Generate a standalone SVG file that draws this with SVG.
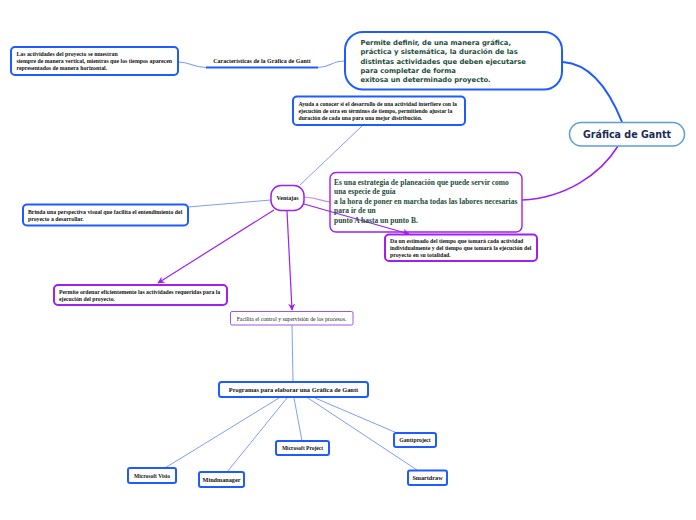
<svg xmlns="http://www.w3.org/2000/svg" width="696" height="520" viewBox="0 0 696 520">
<style>
.bg{fill:#fff}
.bn{fill:#fff;stroke:#1f5cff;stroke-width:2}
.pn{fill:#fff;stroke:#a020f0;stroke-width:2}
.ln{fill:none;stroke:#7f9dff;stroke-width:1}
.pl{fill:none;stroke:#a020f0;stroke-width:1.2}
.s{font-family:"Liberation Serif","Times New Roman",serif;font-weight:bold;fill:#111}
.g{font-family:"DejaVu Sans",Verdana,sans-serif;font-weight:bold;fill:#1d4d3a;font-size:6.8px}
.gs{font-family:"Liberation Serif","Times New Roman",serif;font-weight:bold;fill:#1d4d3a;font-size:7.5px}
</style>
<defs>
<marker id="pa" viewBox="0 0 10 10" refX="9" refY="5" markerWidth="7" markerHeight="7" orient="auto" markerUnits="userSpaceOnUse">
<path d="M0,0 L10,5 L0,10 L3,5 Z" fill="#a020f0"/>
</marker>
</defs>
<rect class="bg" x="0" y="0" width="696" height="520"/>

<g id="connectors">
<path d="M563,62 C592,64 610,92 622,122" fill="none" stroke="#1f5cff" stroke-width="2"/>
<path d="M618,146 C600,175 565,198 522,200" fill="none" stroke="#a020f0" stroke-width="1.6"/>
<path d="M345,61 C330,61 332,67.5 318,67.5" fill="none" stroke="#7f9dff" stroke-width="1.2"/>
<line x1="206" y1="67.5" x2="318" y2="67.5" stroke="#1f5cff" stroke-width="2"/>
<path d="M206,67.5 C192,67.5 192,62 178,62" fill="none" stroke="#7f9dff" stroke-width="1.2"/>
<path d="M330,202 C320,200 315,198 304,197" fill="none" stroke="#c38cf5" stroke-width="1.2"/>
<line class="ln" x1="300" y1="185" x2="362" y2="126"/>
<line class="ln" x1="271" y1="200" x2="188" y2="207"/>
<line class="pl" x1="304" y1="204" x2="409" y2="234" marker-end="url(#pa)"/>
<line class="pl" x1="274" y1="210" x2="158" y2="283" marker-end="url(#pa)"/>
<line class="pl" x1="287" y1="211" x2="292" y2="310" marker-end="url(#pa)"/>
<line class="ln" x1="292" y1="325" x2="293" y2="382"/>
<line class="ln" x1="279" y1="398" x2="165" y2="468"/>
<line class="ln" x1="287" y1="398" x2="227" y2="472"/>
<line class="ln" x1="294" y1="398" x2="302" y2="441"/>
<line class="ln" x1="315" y1="398" x2="397" y2="433"/>
<line class="ln" x1="308" y1="398" x2="417" y2="470"/>
</g>

<g id="root">
<rect x="569.5" y="122.5" width="115" height="23.5" rx="11.7" fill="#fff" stroke="#5aa0d8" stroke-width="1.5"/>
<text x="627" y="138" text-anchor="middle" font-family="'DejaVu Sans',Verdana,sans-serif" font-weight="bold" font-size="10.5" fill="#1a2b57" textLength="88" lengthAdjust="spacingAndGlyphs">Gráfica de Gantt</text>
</g>

<g id="definicion">
<rect class="bn" x="345" y="32" width="217" height="57.5" rx="18" stroke-width="1.6"/>
<text class="g" x="360.5"><tspan x="360.5" y="45">Permite definir, de una manera gráfica,</tspan><tspan x="360.5" y="54.3">práctica y sistemática, la duración de las</tspan><tspan x="360.5" y="63.6">distintas actividades que deben ejecutarse</tspan><tspan x="360.5" y="72.9">para completar de forma</tspan><tspan x="360.5" y="82.2">exitosa un determinado proyecto.</tspan></text>
</g>

<g id="caracteristicas">
<text class="s" x="262" y="63" text-anchor="middle" font-size="6">Características de la Gráfica de Gantt</text>
</g>

<g id="actividades">
<rect class="bn" x="11" y="47" width="167" height="28" rx="4"/>
<text class="s" font-size="5.8"><tspan x="16.5" y="56">Las actividades del proyecto se muestran</tspan><tspan x="16.5" y="63">siempre de manera vertical, mientras que los tiempos aparecen</tspan><tspan x="16.5" y="70">representados de manera horizontal.</tspan></text>
</g>

<g id="estrategia">
<rect x="330" y="172.5" width="192" height="59.5" rx="6" fill="none" stroke="#a020f0" stroke-width="1.4"/>
<text class="gs"><tspan x="334" y="185">Es una estrategia de planeación que puede servir como</tspan><tspan x="334" y="194.4">una especie de guía</tspan><tspan x="334" y="203.8">a la hora de poner en marcha todas las labores necesarias</tspan><tspan x="334" y="213.2">para ir de un</tspan><tspan x="334" y="222.6">punto A hasta un punto B.</tspan></text>
</g>

<g id="ventajas">
<rect x="271" y="185.5" width="33" height="25" rx="10" fill="#fff" stroke="#a020f0" stroke-width="1.5"/>
<text class="s" x="287.5" y="200" text-anchor="middle" font-size="6">Ventajas</text>
</g>

<g id="ayuda">
<rect class="bn" x="293" y="96.5" width="172" height="28.5" rx="4"/>
<text class="s" font-size="5.7"><tspan x="298.5" y="105.5">Ayuda a conocer si el desarrollo de una actividad interfiere con la</tspan><tspan x="298.5" y="112.5">ejecución de otra en términos de tiempo, permitiendo ajustar la</tspan><tspan x="298.5" y="119.5">duración de cada una para una mejor distribución.</tspan></text>
</g>

<g id="brinda">
<rect class="bn" x="23" y="204.5" width="165" height="21" rx="4"/>
<text class="s" font-size="5.8"><tspan x="28" y="213.5">Brinda una perspectiva visual que facilita el entendimiento del</tspan><tspan x="28" y="220.5">proyecto a desarrollar.</tspan></text>
</g>

<g id="estimado">
<rect class="pn" x="385" y="234.5" width="152" height="26.5" rx="4"/>
<text class="s" font-size="5.8"><tspan x="390" y="242.5">Da un estimado del tiempo que tomará cada actividad</tspan><tspan x="390" y="249.5">individualmente y del tiempo que tomará la ejecución del</tspan><tspan x="390" y="256.5">proyecto en su totalidad.</tspan></text>
</g>

<g id="ordenar">
<rect class="pn" x="54" y="285" width="173" height="20" rx="4"/>
<text class="s" font-size="5.75"><tspan x="59" y="293.5">Permite ordenar eficientemente las actividades requeridas para la</tspan><tspan x="59" y="300.5">ejecución del proyecto.</tspan></text>
</g>

<g id="facilita">
<rect x="230.5" y="311.5" width="122.5" height="13.5" rx="1.5" fill="#fff" stroke="#9a5bd6" stroke-width="1"/>
<text x="291.5" y="320.5" text-anchor="middle" font-family="'Liberation Serif','Times New Roman',serif" font-size="5.7" fill="#222">Facilita el control y supervisión de los procesos.</text>
</g>

<g id="programas">
<rect class="bn" x="219" y="382" width="149" height="15" rx="2.5"/>
<text class="s" x="293.5" y="391.8" text-anchor="middle" font-size="6.4">Programas para elaborar una Gráfica de Gantt</text>
</g>

<g id="visio">
<rect class="bn" x="128" y="468" width="48" height="15" rx="2"/>
<text class="s" x="152" y="477.8" text-anchor="middle" font-size="5.5">Microsoft Visio</text>
</g>
<g id="mindmanager">
<rect class="bn" x="199" y="472" width="45" height="15" rx="2"/>
<text class="s" x="221.5" y="482" text-anchor="middle" font-size="6.2">Mindmanager</text>
</g>
<g id="project">
<rect class="bn" x="276" y="441" width="53" height="14" rx="2"/>
<text class="s" x="302.5" y="450.3" text-anchor="middle" font-size="5.5">Microsoft Project</text>
</g>
<g id="ganttproject">
<rect class="bn" x="394" y="433" width="42" height="14" rx="2"/>
<text class="s" x="415" y="442.3" text-anchor="middle" font-size="5.7">Ganttproject</text>
</g>
<g id="smartdraw">
<rect class="bn" x="408" y="470.5" width="39" height="14.5" rx="2"/>
<text class="s" x="427.5" y="480.3" text-anchor="middle" font-size="6.2">Smartdraw</text>
</g>
</svg>
